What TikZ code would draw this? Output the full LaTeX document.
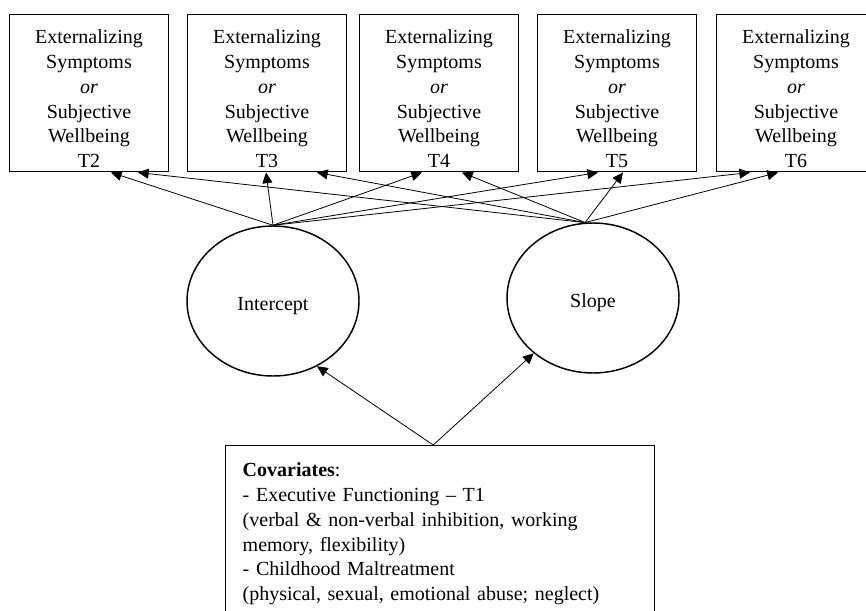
\documentclass[tikz,border=0pt]{standalone}
\usepackage{fontspec}
\setmainfont{Liberation Serif}
\usepackage{tikz}
\usetikzlibrary{arrows.meta,shapes.geometric,calc}

\newcommand{\outcome}[1]{Externalizing\\Symptoms\\\textit{or}\\Subjective\\Wellbeing\\#1}

\begin{document}
\begin{tikzpicture}[x=0.75pt, y=-0.75pt, every node/.style={font=\fontsize{15}{18.6}\selectfont}, >={Triangle[length=8pt, width=7.5pt]},
	obox/.style={draw, line width=1.1pt, inner sep=0pt, minimum width=119.25pt, align=center, text height=114.75pt, text depth=3pt},
	latent/.style={draw, ellipse, line width=1.1pt, minimum width=129pt, minimum height=112.5pt, text height=17pt, text depth=3pt},
	arr/.style={->, line width=0.6pt}]
	\useasboundingbox (0,0) rectangle (866,610);
	\clip (0,0) rectangle (866,610);
	\node[obox, anchor=north] (t2) at (89,14) {\outcome{T2}};
	\node[obox, anchor=north] (t3) at (267,14) {\outcome{T3}};
	\node[obox, anchor=north] (t4) at (439,14) {\outcome{T4}};
	\node[obox, anchor=north] (t5) at (617,14) {\outcome{T5}};
	\node[obox, anchor=north] (t6) at (796,14) {\outcome{T6}};
	\node[latent] (intercept) at (273,301) {Intercept};
	\node[latent] (slope) at (593,298) {Slope};
	\node[draw, line width=1.1pt, anchor=north west, inner sep=12.75pt, text width=296.25pt, align=left] (cov) at (225,445)
		{\textbf{Covariates}:\\- Executive Functioning -- T1\\(verbal \& non-verbal inhibition, working\\memory, flexibility)\\- Childhood Maltreatment\\(physical, sexual, emotional abuse; neglect)};
	\coordinate (fork) at ($(cov.north)+(-7,0)$);
	\draw[arr] (intercept.north) -- ($(t2.south)+(22,0)$);
	\draw[arr] (intercept.north) -- ($(t3.south)+(-1,0)$);
	\draw[arr] (intercept.north) -- ($(t4.south)+(-17,0)$);
	\draw[arr] (intercept.north) -- ($(t5.south)+(-19,0)$);
	\draw[arr] (intercept.north) -- ($(t6.south)+(-46,0)$);
	\draw[arr] (slope.96) -- ($(t2.south)+(49,0)$);
	\draw[arr] (slope.96) -- ($(t3.south)+(50,0)$);
	\draw[arr] (slope.96) -- ($(t4.south)+(23,0)$);
	\draw[arr] (slope.96) -- ($(t5.south)+(6,0)$);
	\draw[arr] (slope.96) -- ($(t6.south)+(-18,0)$);
	\draw[arr] (fork) -- (intercept.-56);
	\draw[arr] (fork) -- (slope.-137);
\end{tikzpicture}
\end{document}
